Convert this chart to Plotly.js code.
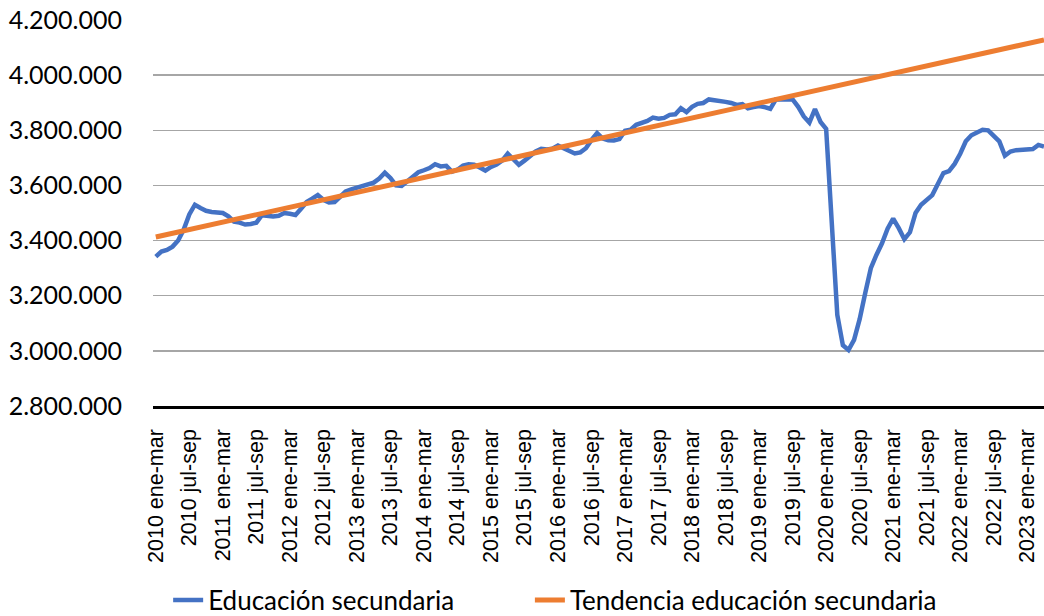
<!DOCTYPE html>
<html>
<head>
<meta charset="utf-8">
<script src="https://cdn.plot.ly/plotly-3.0.1.min.js"></script>
<style>
  html, body { margin: 0; padding: 0; background: #ffffff; }
  #chart { width: 1044px; height: 616px; }
</style>
</head>
<body>
<div id="chart"></div>
<script>
// Rolling-quarter periods (Spanish month abbreviations)
const years = [2010, 2011, 2012, 2013, 2014, 2015, 2016, 2017, 2018, 2019, 2020, 2021, 2022, 2023];
const periods = ["ene-mar", "feb-abr", "mar-may", "abr-jun", "may-jul", "jun-ago",
                 "jul-sep", "ago-oct", "sep-nov", "oct-dic", "nov-ene", "dic-feb"];

// Tick labels shown on the x axis
const tickLabels = [
  "2010 ene-mar", "2010 jul-sep", "2011 ene-mar", "2011 jul-sep", "2012 ene-mar", "2012 jul-sep",
  "2013 ene-mar", "2013 jul-sep", "2014 ene-mar", "2014 jul-sep", "2015 ene-mar", "2015 jul-sep",
  "2016 ene-mar", "2016 jul-sep", "2017 ene-mar", "2017 jul-sep", "2018 ene-mar", "2018 jul-sep",
  "2019 ene-mar", "2019 jul-sep", "2020 ene-mar", "2020 jul-sep", "2021 ene-mar", "2021 jul-sep",
  "2022 ene-mar", "2022 jul-sep", "2023 ene-mar"
];

// Educación secundaria (persons), 2010 ene-mar ... 2023 abr-jun
const secundaria = [
  3342000, 3360000, 3366000, 3378000, 3400000, 3440000, 3495000, 3530000, 3518000, 3508000,
  3504000, 3504000, 3500000, 3488000, 3469000, 3465000, 3458000, 3460000, 3465000, 3492000,
  3490000, 3487000, 3490000, 3500000, 3497000, 3493000, 3515000, 3540000, 3552000, 3565000,
  3548000, 3538000, 3540000, 3558000, 3578000, 3586000, 3592000, 3598000, 3602000, 3610000,
  3625000, 3646000, 3627000, 3600000, 3598000, 3614000, 3634000, 3648000, 3655000, 3663000,
  3677000, 3669000, 3671000, 3650000, 3657000, 3672000, 3677000, 3675000, 3665000, 3654000,
  3667000, 3676000, 3690000, 3715000, 3695000, 3675000, 3690000, 3707000, 3723000, 3733000,
  3730000, 3733000, 3745000, 3735000, 3725000, 3716000, 3720000, 3735000, 3765000, 3790000,
  3770000, 3764000, 3763000, 3768000, 3798000, 3802000, 3820000, 3825000, 3834000, 3846000,
  3842000, 3845000, 3856000, 3858000, 3880000, 3866000, 3885000, 3896000, 3899000, 3912000,
  3910000, 3908000, 3903000, 3899000, 3892000, 3895000, 3880000, 3884000, 3888000, 3884000,
  3878000, 3912000, 3914000, 3913000, 3912000, 3885000, 3850000, 3828000, 3877000, 3830000,
  3805000, 3470000, 3130000, 3020000, 3003000, 3040000, 3115000, 3210000, 3300000, 3348000,
  3390000, 3443000, 3480000, 3445000, 3405000, 3430000, 3500000, 3530000, 3550000, 3565000,
  3605000, 3645000, 3652000, 3678000, 3715000, 3760000, 3782000, 3794000, 3802000, 3800000,
  3782000, 3760000, 3708000, 3723000, 3728000, 3729000, 3733000, 3732000, 3747000, 3741000
];

// Linear trend: values at first and last period
const trendValues = [3413000, 4128000];

// Build category list from years and periods
const categories = [];
years.forEach(y => periods.forEach(p => categories.push(y + " " + p)));
const cats = categories.slice(0, secundaria.length);
const trendCats = [cats[0], cats[cats.length - 1]];

const traces = [
  {
    type: "scatter", mode: "lines", name: "Educación secundaria",
    x: cats, y: secundaria, legend: "legend",
    line: { color: "#4472C4", width: 4.5, shape: "linear" }
  },
  {
    type: "scatter", mode: "lines", name: "Tendencia educación secundaria",
    x: trendCats, y: trendValues, legend: "legend2",
    line: { color: "#ED7D31", width: 5 }
  }
];

const legendFont = { family: "Lato, 'Noto Sans', sans-serif", size: 26, color: "#000000" };

const layout = {
  width: 1044, height: 616,
  margin: { l: 153, r: 0, t: 20, b: 210 },
  paper_bgcolor: "#ffffff", plot_bgcolor: "#ffffff",
  separators: ",.",
  showlegend: true,
  legend: {
    orientation: "h", xref: "paper", x: 0.017, xanchor: "left",
    yref: "container", y: 0.026, yanchor: "middle",
    font: legendFont, bgcolor: "rgba(0,0,0,0)"
  },
  legend2: {
    orientation: "h", xref: "paper", x: 0.423, xanchor: "left",
    yref: "container", y: 0.026, yanchor: "middle",
    font: legendFont, bgcolor: "rgba(0,0,0,0)"
  },
  xaxis: {
    type: "category",
    categoryorder: "array", categoryarray: cats,
    range: [-0.5, cats.length - 1],
    tickmode: "array", tickvals: tickLabels, ticktext: tickLabels,
    tickangle: -90,
    ticks: "", showgrid: false, zeroline: false,
    showline: true, linecolor: "#000000", linewidth: 2.5,
    ticklabelstandoff: 12, automargin: false,
    tickfont: { family: "'Liberation Sans', Arial, sans-serif", size: 21.5, color: "#000000" }
  },
  yaxis: {
    range: [2800000, 4200000],
    tickmode: "array",
    tickvals: [2800000, 3000000, 3200000, 3400000, 3600000, 3800000, 4000000, 4200000],
    tickformat: ",d",
    ticks: "", showline: false, zeroline: false,
    showgrid: true, gridcolor: "#A6A6A6", gridwidth: 1.5,
    ticklabelstandoff: 30, automargin: false,
    tickfont: { family: "Lato, 'Noto Sans', sans-serif", size: 25, color: "#000000" }
  }
};

Plotly.newPlot("chart", traces, layout, { displayModeBar: false, staticPlot: true });
</script>
</body>
</html>
